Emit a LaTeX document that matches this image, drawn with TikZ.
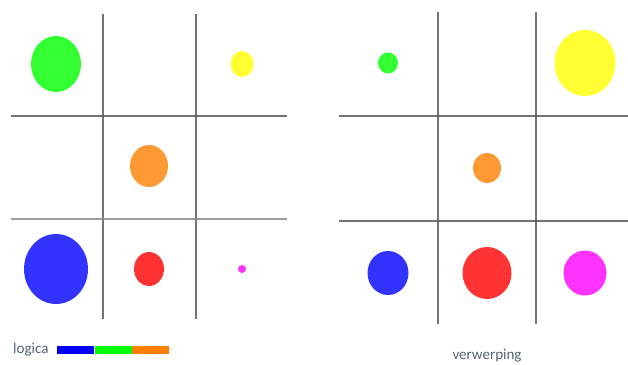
\documentclass[tikz,border=0pt]{standalone}
\usepackage{fontspec}
\setmainfont{Carlito}
\usetikzlibrary{shapes.geometric,positioning}
\definecolor{gridgrey}{RGB}{90,90,90}
\definecolor{labelgrey}{RGB}{84,100,114}
\definecolor{dotgreen}{RGB}{51,255,51}
\definecolor{dotyellow}{RGB}{255,255,51}
\definecolor{dotorange}{RGB}{255,153,51}
\definecolor{dotblue}{RGB}{51,51,255}
\definecolor{dotred}{RGB}{255,51,51}
\definecolor{dotpink}{RGB}{255,51,255}
\definecolor{barblue}{RGB}{0,0,255}
\definecolor{bargreen}{RGB}{0,255,0}
\definecolor{barorange}{RGB}{255,128,0}

\begin{document}
\begin{tikzpicture}[
    x=1pt, y=-1pt,
    gridline/.style={draw=gridgrey, line width=1.3pt, opacity=0.85},
    dot/.style={ellipse, draw=none, inner sep=0pt},
    barpart/.style={draw=none, minimum width=37pt, minimum height=8pt, inner sep=0pt},
    caption/.style={font=\fontsize{15}{18}\selectfont, text=labelgrey, inner sep=0pt}
]

\useasboundingbox (0,0) rectangle (628,364);

% Left grid
\draw[gridline] (103,14) -- (103,319);
\draw[gridline] (196,14) -- (196,319);
\draw[gridline] (11,116) -- (287,116);
\draw[gridline, draw=black!45, line width=1.8pt] (11,219) -- (287,219);

% Left dots
\node[dot, fill=dotgreen, minimum width=50pt, minimum height=56pt] (lgreen) at (56,64) {};
\node[dot, fill=dotyellow, minimum width=23pt, minimum height=26pt] (lyellow) at (242,64) {};
\node[dot, fill=dotorange, minimum width=38pt, minimum height=42pt] (lorange) at (149,166) {};
\node[dot, fill=dotblue, minimum width=64pt, minimum height=70pt] (lblue) at (56,269) {};
\node[dot, fill=dotred, minimum width=30pt, minimum height=34pt] (lred) at (149,269) {};
\node[dot, fill=dotpink, minimum width=8pt, minimum height=8pt] (lpink) at (242,269) {};

% Right grid
\draw[gridline] (438,12) -- (438,324);
\draw[gridline] (536,12) -- (536,324);
\draw[gridline] (339,116) -- (628,116);
\draw[gridline] (339,221) -- (628,221);

% Right dots
\node[dot, fill=dotgreen, minimum width=20pt, minimum height=21pt] (rgreen) at (388,63) {};
\node[dot, fill=dotyellow, minimum width=61pt, minimum height=66pt] (ryellow) at (585,63) {};
\node[dot, fill=dotorange, minimum width=28pt, minimum height=30pt] (rorange) at (487,168) {};
\node[dot, fill=dotblue, minimum width=41pt, minimum height=44pt] (rblue) at (388,273) {};
\node[dot, fill=dotred, minimum width=49pt, minimum height=52pt] (rred) at (487,273) {};
\node[dot, fill=dotpink, minimum width=43pt, minimum height=45pt] (rpink) at (585,273) {};

% Legend and captions
\node[caption, anchor=west] (logica) at (13,350) {logica};
\node[barpart, fill=barblue, anchor=west] (barb) at (57,350) {};
\node[barpart, fill=bargreen, right=0pt of barb] (barg) {};
\node[barpart, fill=barorange, right=0pt of barg] (baro) {};
\node[caption] (verwerping) at (487,356) {verwerping};

\end{tikzpicture}
\end{document}
